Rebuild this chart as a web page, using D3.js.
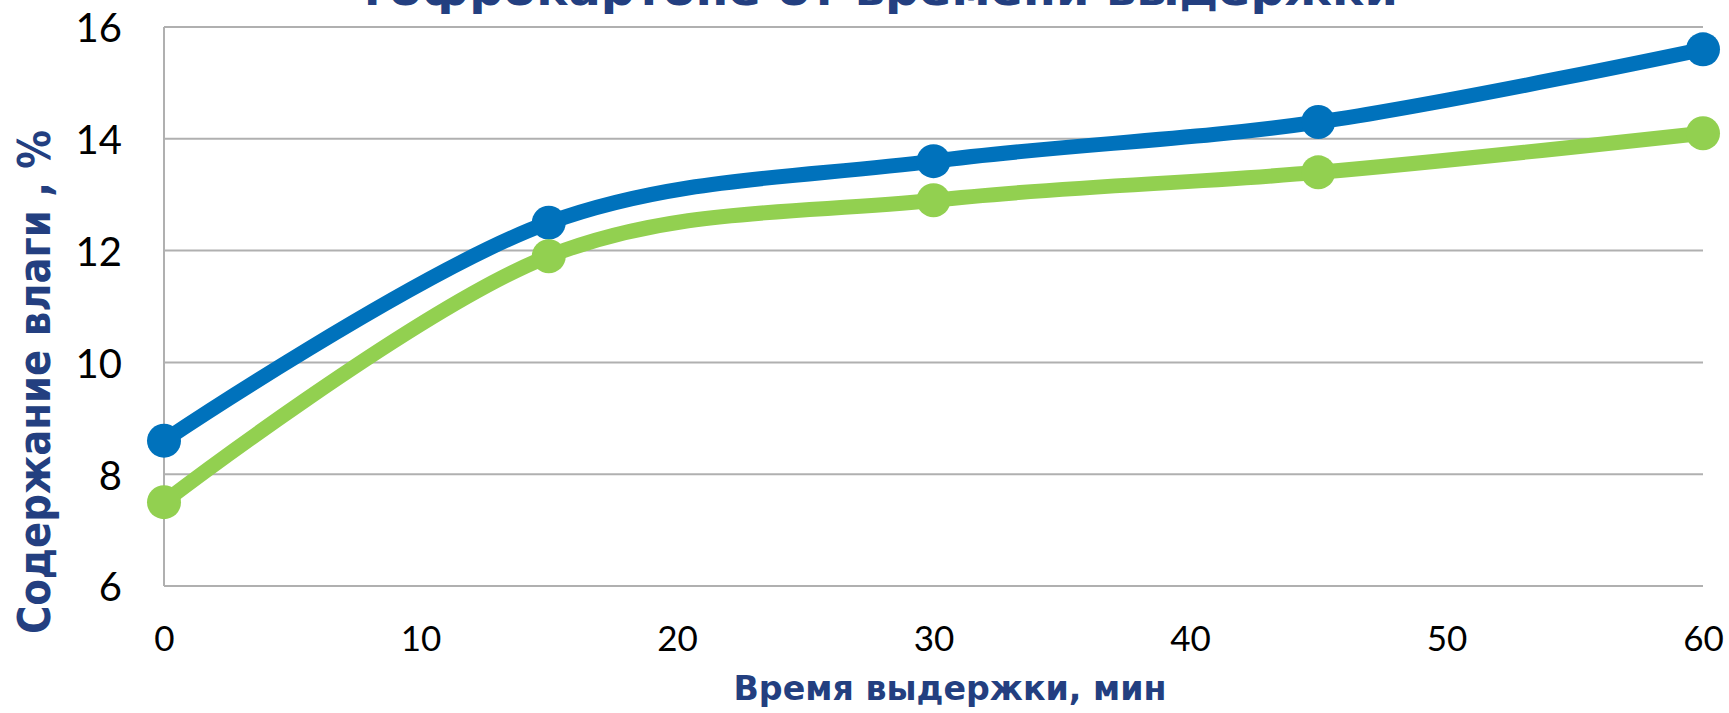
<!DOCTYPE html>
<html><head><meta charset="utf-8">
<script src="https://cdn.jsdelivr.net/npm/d3@7"></script>
<style>html,body{margin:0;padding:0;background:#fff;overflow:hidden}</style>
</head><body>
<svg id="c" width="1729" height="713"></svg>
<script>
const times = [0, 15, 30, 45, 60];
const seriesBlue = [8.6, 12.5, 13.6, 14.3, 15.6];
const seriesGreen = [7.5, 11.9, 12.9, 13.4, 14.1];
const xTicks = [0, 10, 20, 30, 40, 50, 60];
const yTicks = [6, 8, 10, 12, 14, 16];
const titleText = "гофрокартоне от времени выдержки";
const xTitle = "Время выдержки, мин";
const yTitle = "Содержание влаги , %";

const svg = d3.select("#c");
const L = 164, R = 1703, T = 27, B = 586;
const x = d3.scaleLinear().domain([0, 60]).range([L, R]);
const y = d3.scaleLinear().domain([6, 16]).range([B, T]);
const navy = "#233f80";

// gridlines
svg.append("g").selectAll("line").data(yTicks).join("line")
  .attr("x1", L).attr("x2", R).attr("y1", d => y(d)).attr("y2", d => y(d))
  .attr("stroke", "#b0b0b0").attr("stroke-width", 2);
svg.append("line").attr("x1", L).attr("x2", L).attr("y1", T).attr("y2", B)
  .attr("stroke", "#b0b0b0").attr("stroke-width", 2);

// axes labels via d3 axes
const yAxis = svg.append("g").attr("transform", `translate(${L},0)`)
  .call(d3.axisLeft(y).tickValues(yTicks).tickSize(0).tickPadding(42));
yAxis.select(".domain").remove();
yAxis.selectAll("text").attr("font-family", "Lato, 'Open Sans', sans-serif")
  .attr("font-size", 40).attr("fill", "#000").attr("dy", "0.37em");

const xAxis = svg.append("g").attr("transform", `translate(0,${B})`)
  .call(d3.axisBottom(x).tickValues(xTicks).tickSize(0).tickPadding(40));
xAxis.select(".domain").remove();
xAxis.selectAll("text").attr("font-family", "Lato, 'Open Sans', sans-serif")
  .attr("font-size", 35).attr("fill", "#000").attr("dy", "0.71em");

// lines
const line = d3.line().x((d, i) => x(times[i])).y(d => y(d)).curve(d3.curveCatmullRom.alpha(0));
const series = [[seriesBlue, "#0072bc"], [seriesGreen, "#92d050"]];
series.forEach(([vals, col]) => {
  svg.append("path").datum(vals).attr("d", line).attr("fill", "none")
    .attr("stroke", col).attr("stroke-width", 15).attr("stroke-linejoin", "round");
  svg.append("g").selectAll("circle").data(vals).join("circle")
    .attr("cx", (d, i) => x(times[i])).attr("cy", d => y(d)).attr("r", 17).attr("fill", col);
});

// titles
svg.append("text").text(titleText).attr("x", 364).attr("y", 5)
  .attr("font-family", "'DejaVu Sans', sans-serif").attr("font-weight", "bold")
  .attr("font-size", 44).attr("fill", navy)
  .attr("textLength", 1034).attr("lengthAdjust", "spacingAndGlyphs");

svg.append("text").text(xTitle).attr("x", 950).attr("y", 700).attr("text-anchor", "middle")
  .attr("font-family", "'DejaVu Sans', sans-serif").attr("font-weight", "bold")
  .attr("font-size", 34).attr("fill", navy)
  .attr("textLength", 433).attr("lengthAdjust", "spacingAndGlyphs");

svg.append("text").text(yTitle).attr("transform", "translate(50,382) rotate(-90)")
  .attr("text-anchor", "middle")
  .attr("font-family", "'DejaVu Sans', sans-serif").attr("font-weight", "bold")
  .attr("font-size", 44).attr("fill", navy)
  .attr("textLength", 504).attr("lengthAdjust", "spacingAndGlyphs");
</script>
</body></html>
